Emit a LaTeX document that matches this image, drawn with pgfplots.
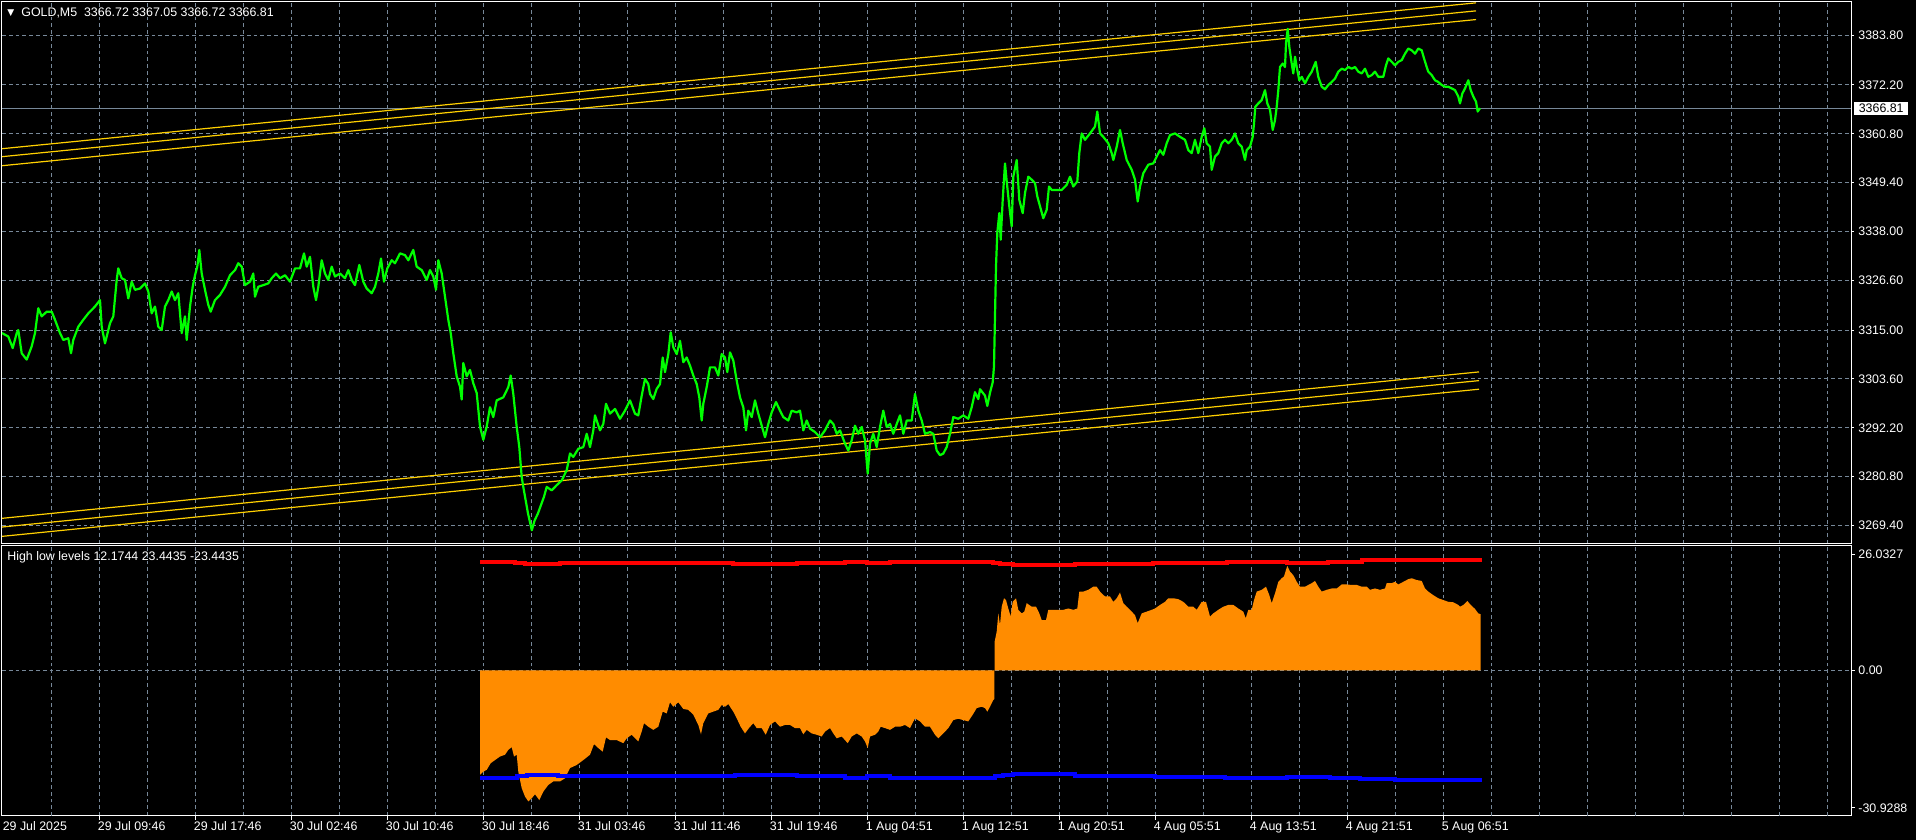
\documentclass[border=0pt]{standalone}
\usepackage{fontspec}
\setmainfont{Liberation Sans}
\newfontfamily\dejavu{DejaVu Sans}
\usepackage{pgfplots}
\pgfplotsset{compat=1.18}

\definecolor{mtgrid}{HTML}{778899}
\definecolor{mtgreen}{HTML}{00FF00}
\definecolor{mtgold}{HTML}{FFD000}
\definecolor{mtorange}{HTML}{FF8C00}
\newcommand\mtfont{\fontsize{6.2}{7}\selectfont}

% one pixel of the screenshot = 0.5pt, x data = pixel column
\pgfplotsset{
  mtpanel/.style={
    scale only axis, width=924.5pt, xmin=2, xmax=1851,
    axis line style={white, line width=0.5pt},
    grid style={mtgrid, line width=0.5pt, dash pattern=on 1.9pt off 1.5pt},
    minor grid style={mtgrid, line width=0.5pt, dash pattern=on 1.9pt off 1.5pt},
    tick style={white, line width=0.5pt},
    tick align=outside, minor tick length=0pt,
    ytick pos=right, yticklabel pos=right, xtick pos=bottom,
    ticklabel style={font=\mtfont, text=white, inner sep=0pt},
    clip mode=individual,
  },
}

\begin{document}
\begin{tikzpicture}
\path[use as bounding box, fill=black] (0,0) rectangle (958pt,420pt);

% ---------------- price panel ----------------
\begin{axis}[mtpanel, at={(1pt,148pt)}, anchor=south west, height=271pt,
  ymin=3265.08, ymax=3391.57,
  major tick length=1.5pt,
  yticklabel style={anchor=west, xshift=2pt},
  xtick={51.5,99.5,...,1827.5}, xticklabel=\empty, major x tick style=transparent,
  ytick={3269.4,3280.8,3292.2,3303.6,3315.0,3326.6,3338.0,3349.4,3360.8,3372.2,3383.8},
  yticklabels={3269.40,3280.80,3292.20,3303.60,3315.00,3326.60,3338.00,3349.40,3360.80,3372.20,3383.80},
  xmajorgrids, ymajorgrids,
]
% current price line
\addplot[mtgrid, line width=0.5pt] coordinates {(2,3366.81) (1851,3366.81)};

% channel lines
\addplot[mtgold, line width=0.6pt] coordinates {(2,3357.33) (1476,3391.37)};
\addplot[mtgold, line width=0.6pt] coordinates {(2,3355.47) (1476,3389.50)};
\addplot[mtgold, line width=0.6pt] coordinates {(2,3353.36) (1476,3387.47)};
\addplot[mtgold, line width=0.6pt] coordinates {(2,3271.07) (1479,3305.24)};
\addplot[mtgold, line width=0.6pt] coordinates {(2,3269.04) (1479,3303.21)};
\addplot[mtgold, line width=0.6pt] coordinates {(2,3266.86) (1479,3301.20)};

% GOLD M5 close
\addplot[mtgreen, line width=1.1pt, line join=round] coordinates {
(2,3314.3)(8.3,3313.5)(12.7,3310.8)(16.7,3314.3)(18.3,3315.0)(21.7,3309.6)(26.7,3308.1)(31.7,3311.2)(35,3314.3)(38.3,3320.1)
(41.7,3318.2)(46.7,3319.3)(51.7,3319.3)(55,3317.4)(60,3314.3)(63.3,3312.7)(68.3,3313.1)(71,3309.6)(73.3,3312.7)(78.3,3315.8)
(83.3,3317.4)(88.3,3318.9)(95,3320.5)(100,3322.0)(101.7,3315.8)(105,3311.9)(110,3316.6)(113.3,3318.2)(116.7,3326.7)(118.3,3329.4)
(121.7,3327.1)(125,3326.7)(128.3,3322.4)(131.7,3326.3)(135,3324.4)(140,3324.7)(145,3325.9)(148.3,3324.0)(151.7,3318.9)(155,3320.5)
(158.3,3315.8)(161.7,3315.0)(165,3320.5)(168.3,3322.0)(171.7,3324.0)(175,3322.0)(178.3,3323.6)(181.7,3314.3)(185,3318.2)(186.7,3312.7)
(190,3320.5)(192.7,3325.1)(195,3327.8)(197.3,3329.8)(199.3,3333.7)(201.7,3328.2)(205,3324.4)(208.3,3320.9)(210.7,3319.3)(215,3322.0)
(220,3323.2)(225,3325.1)(230,3327.8)(235,3329.0)(238.3,3330.6)(241.7,3329.8)(245,3325.5)(250,3326.3)(253.3,3328.2)(255,3322.8)
(258.3,3325.1)(263.3,3325.5)(268.3,3325.9)(271.7,3327.1)(276,3328.2)(280,3327.1)(285,3327.8)(290,3326.3)(295,3329.4)(300,3329.4)
(304,3332.9)(306.7,3329.8)(310,3332.1)(313.3,3325.1)(316,3322.0)(318.3,3325.1)(321.7,3331.3)(325,3328.2)(328.3,3326.7)(331.7,3329.8)
(335,3327.5)(340,3328.2)(345,3327.1)(348.3,3329.0)(351.7,3326.7)(355,3325.5)(359.3,3330.2)(363.3,3326.3)(366.7,3324.7)(371.7,3323.6)
(375,3325.1)(378.3,3328.2)(381,3331.7)(384,3326.3)(387.3,3329.4)(391.7,3331.3)(395,3330.6)(400,3332.9)(405,3332.5)(408.3,3331.3)
(413.3,3333.7)(416.7,3329.8)(421.7,3329.0)(426.7,3326.7)(430,3329.0)(433.3,3327.5)(436,3324.4)(438.3,3331.3)(441.7,3328.2)(445,3322.8)
(448.3,3317.4)(450.7,3314.3)(453.3,3309.6)(456.7,3304.2)(460,3301.8)(461.7,3298.8)(463.3,3307.3)(466.7,3304.2)(470,3305.7)(473.3,3302.6)
(476.7,3300.3)(480,3292.5)(483.3,3289.4)(486.7,3292.5)(490,3297.0)(493.3,3294.7)(496.7,3298.6)(503.3,3299.3)(508.3,3301.7)(510.7,3304.4)
(513.3,3300.1)(516.7,3292.4)(519.3,3287.7)(521.7,3280.7)(523.3,3278.4)(528,3272.2)(531.8,3268.3)(534.5,3270.5)(537.9,3272.2)(544,3276.1)
(546.7,3278.4)(551.7,3277.6)(556.7,3278.8)(561.7,3279.9)(566.7,3282.3)(570,3286.2)(573.3,3285.4)(578.3,3287.3)(583.3,3287.7)(586.7,3290.8)
(590,3287.7)(593.3,3291.6)(595,3295.1)(600,3291.6)(603.3,3293.1)(606,3297.8)(610,3295.5)(615,3296.6)(620,3294.3)(625,3296.2)
(630,3298.6)(635,3295.5)(638.3,3295.1)(641.7,3299.7)(645,3303.6)(648.3,3302.4)(650,3300.1)(653.3,3298.9)(656.7,3301.3)(660,3302.4)
(662.7,3308.6)(665,3305.2)(668.3,3309.4)(670.7,3314.5)(673.3,3311.0)(676.7,3309.4)(680,3312.5)(683.3,3307.5)(686.7,3308.6)(690,3306.7)
(693.3,3304.4)(696.7,3302.4)(699.3,3299.3)(701.7,3293.9)(703.3,3297.8)(706.7,3301.7)(710,3306.3)(715,3306.3)(718.3,3304.4)(721.7,3309.4)
(725,3308.6)(727.3,3305.2)(730,3309.8)(733.3,3307.9)(736.7,3303.2)(740,3299.3)(743.3,3297.0)(746,3291.6)(748.3,3296.2)(751.7,3294.7)
(755,3298.6)(758.3,3295.5)(761.7,3292.7)(765,3290.0)(768.3,3293.1)(771.7,3295.8)(776,3298.2)(780,3296.2)(783.3,3294.7)(788.3,3293.9)
(791.7,3296.2)(796.7,3295.8)(800,3296.2)(803.3,3291.6)(806.7,3293.9)(810,3292.0)(815,3291.2)(820,3290.0)(825,3291.6)(830,3293.9)
(833.3,3293.1)(836.7,3290.8)(840,3291.6)(845,3288.5)(848.3,3286.9)(851.7,3289.3)(855,3292.7)(858.3,3290.8)(861.7,3292.4)(865,3289.3)
(867.7,3281.5)(870,3288.5)(873.3,3290.8)(876.7,3287.7)(880,3292.4)(883.3,3296.2)(886.7,3292.4)(890,3293.1)(893.3,3290.8)(896.7,3293.1)
(900,3295.1)(903.3,3290.8)(906.7,3293.9)(911.7,3293.9)(915,3300.1)(918.3,3296.2)(921.7,3293.9)(925,3290.8)(930,3291.2)(933.3,3290.8)
(936.7,3286.9)(940,3285.8)(943.3,3286.2)(946.7,3287.7)(950,3290.8)(953.3,3294.7)(958.3,3294.3)(963.3,3295.1)(968.3,3294.3)(971.7,3297.0)
(975,3300.5)(978.3,3298.9)(980,3301.2)(985,3299.7)(987.3,3297.3)(990,3300.4)(992.7,3302.8)(994,3306.6)(995,3318.3)(996,3329.9)
(997.3,3337.7)(999.3,3342.3)(1000.7,3336.1)(1002.7,3345.4)(1005,3353.9)(1006.7,3349.7)(1009.3,3343.9)(1011.7,3339.2)(1013.3,3350.8)(1016.7,3354.7)
(1019.3,3345.4)(1022.7,3342.3)(1025,3347.0)(1028.3,3350.8)(1031.7,3350.1)(1035,3349.3)(1037.3,3346.2)(1040,3343.9)(1043.3,3341.1)(1046.7,3343.1)
(1049,3348.5)(1051.7,3347.7)(1056.7,3347.7)(1061.7,3347.7)(1066.7,3348.9)(1070,3350.8)(1073.3,3348.5)(1077.3,3349.7)(1079.3,3356.3)(1081.7,3360.9)
(1085,3359.4)(1090,3360.9)(1095,3362.5)(1097.3,3366.0)(1100,3360.9)(1103.3,3360.1)(1108.3,3358.6)(1111.7,3356.3)(1113.3,3354.7)(1116.7,3357.8)
(1120,3361.7)(1122.7,3358.6)(1126.7,3354.7)(1131.7,3352.4)(1135,3350.1)(1137.7,3345.0)(1140,3348.5)(1143.3,3351.6)(1148.3,3353.6)(1153.3,3353.9)
(1156.7,3355.5)(1160,3357.0)(1163.3,3355.9)(1166.7,3358.6)(1170,3360.5)(1175,3360.9)(1180,3360.1)(1185,3359.4)(1188.3,3357.0)(1191.7,3356.3)
(1195,3359.4)(1198.3,3356.3)(1201.7,3360.1)(1204.3,3362.1)(1206.7,3358.6)(1210,3357.8)(1211.7,3352.4)(1215,3355.5)(1218.3,3356.3)(1221.7,3358.6)
(1225,3359.4)(1228.3,3358.6)(1231.7,3359.4)(1235,3360.9)(1238.3,3358.6)(1241.7,3357.8)(1245,3354.7)(1246.7,3357.0)(1250,3357.8)(1252.7,3360.1)
(1254,3363.2)(1255.3,3367.1)(1258.3,3367.9)(1261.7,3368.7)(1265,3371.0)(1267.3,3367.9)(1270,3366.4)(1272.7,3361.7)(1275,3364.0)(1276.7,3367.1)
(1278.3,3371.0)(1280,3376.4)(1282.7,3377.2)(1285,3376.4)(1286,3381.9)(1287.7,3385.3)(1289.3,3381.1)(1291.7,3377.2)(1293.3,3374.9)(1295,3378.8)
(1296.7,3376.4)(1299.3,3373.3)(1301.7,3374.1)(1305,3372.6)(1308.3,3374.1)(1311.7,3375.3)(1315.7,3377.6)(1318.3,3374.1)(1321.7,3371.8)(1325,3371.2)
(1328.3,3372.2)(1331.7,3372.9)(1335,3373.7)(1338.3,3375.3)(1341.7,3376.0)(1345,3375.7)(1348.3,3376.4)(1351.7,3376.0)(1355,3376.4)(1358.3,3375.3)
(1361.7,3374.9)(1365,3376.0)(1368.3,3374.1)(1371.7,3374.5)(1375,3375.3)(1378.3,3374.1)(1383.3,3374.1)(1386,3376.8)(1388.3,3378.4)(1391.7,3377.6)
(1395,3376.8)(1398.3,3377.6)(1401.7,3378.0)(1405,3379.5)(1408.3,3380.7)(1411.7,3380.3)(1415,3379.5)(1418.3,3380.7)(1421.7,3380.3)(1424,3378.4)
(1426.7,3376.4)(1428.3,3375.3)(1431.7,3374.5)(1435,3373.3)(1438.3,3372.9)(1441.7,3372.2)(1445,3371.8)(1448.3,3371.8)(1451.7,3371.4)(1455,3371.0)
(1458.3,3369.5)(1460,3367.9)(1462.3,3370.2)(1465,3371.4)(1468.3,3373.3)(1470.7,3371.0)(1473.3,3369.5)(1476,3368.3)(1477.7,3366.0)(1480,3366.8)
};

\node[anchor=center, text=white, font=\dejavu\fontsize{4.5}{5}\selectfont, inner sep=0pt,
      xshift=4.4pt, yshift=-5.4pt] at (rel axis cs:0,1) {▼};
\node[anchor=west, text=white, font=\mtfont, inner sep=0pt, xshift=9.5pt, yshift=-5.25pt]
      at (rel axis cs:0,1) {GOLD,M5\ \ 3366.72 3367.05 3366.72 3366.81};
\node[anchor=west, fill=white, text=black, font=\mtfont, inner xsep=2.2pt, inner ysep=1pt,
      minimum height=6.5pt, xshift=1.5pt] at (axis cs:1851,3366.81) {3366.81};
\end{axis}

% ---------------- indicator panel ----------------
\begin{axis}[mtpanel, at={(1pt,12pt)}, anchor=south west, height=135pt,
  ymin=-32.78, ymax=27.96,
  major tick length=2pt,
  yticklabel style={anchor=west, xshift=1.5pt},
  xtick={99.5,195.5,...,1443.5},
  xticklabels={29 Jul 09:46,29 Jul 17:46,30 Jul 02:46,30 Jul 10:46,30 Jul 18:46,31 Jul 03:46,31 Jul 11:46,31 Jul 19:46,1 Aug 04:51,1 Aug 12:51,1 Aug 20:51,4 Aug 05:51,4 Aug 13:51,4 Aug 21:51,5 Aug 06:51},
  xticklabel style={anchor=north west, xshift=-1pt, yshift=-0.8pt},
  minor x tick num=1,
  extra x ticks={51.5,1491.5,1539.5,1587.5,1635.5,1683.5,1731.5,1779.5,1827.5},
  extra x tick labels={},
  extra x tick style={grid=major, major tick length=0pt},
  ytick={0}, yticklabels={0.00},
  extra y ticks={-30.9288,26.0327}, extra y tick labels={-30.9288,26.0327},
  extra y tick style={grid=none},
  xmajorgrids, xminorgrids, ymajorgrids,
]
\addplot[draw=none, fill=mtorange] coordinates {
(480,0)(480,-23.5)(483.3,-22.8)(486.7,-22.4)(490.7,-20.9)(495,-20.2)(500,-19.4)(505,-19.0)(508.3,-17.9)(511.7,-17.3)
(514,-19.4)(516.7,-19.0)(518.3,-22.8)(521.7,-26.5)(525,-28.4)(528.3,-29.5)(531.7,-28.8)(535,-27.9)(539.3,-29.2)(543.3,-27.3)
(548.3,-25.8)(553.3,-25.0)(560,-25.0)(565,-24.3)(570,-22.0)(576.7,-21.3)(583.3,-20.2)(590,-19.0)(594,-16.6)(598.3,-17.5)
(602.7,-18.3)(606,-15.1)(610,-15.7)(616.7,-15.7)(623.3,-16.4)(626.7,-15.3)(631.7,-14.5)(638.3,-16.0)(641.7,-13.8)(644,-11.9)
(648.3,-12.7)(653.3,-13.4)(658.3,-12.7)(662.7,-9.3)(666.7,-9.7)(670,-7.2)(673.3,-8.2)(678.3,-7.2)(683.3,-8.7)(688.3,-8.9)
(693.3,-10.0)(698.3,-12.3)(701,-14.4)(703.3,-11.9)(708.3,-9.7)(713.3,-9.3)(718.3,-8.9)(721.7,-7.8)(725,-8.2)(728.3,-7.6)
(733.3,-9.3)(736.7,-10.8)(740.7,-12.7)(745,-14.2)(749.3,-12.9)(753.3,-11.9)(756.7,-13.0)(761.7,-13.0)(765.7,-14.5)(770,-12.3)
(775,-11.5)(780,-12.7)(785,-12.3)(790,-12.3)(795,-13.0)(800,-13.0)(803.3,-14.4)(806.7,-13.4)(811.7,-14.2)(816.7,-14.5)
(821.7,-14.9)(825,-13.8)(830,-13.0)(833.3,-14.2)(836.7,-15.3)(841.7,-14.9)(845,-15.7)(847.7,-16.4)(851.7,-14.9)(856.7,-14.2)
(861.7,-14.9)(865,-16.0)(867.7,-17.5)(870,-14.9)(875,-14.5)(878.3,-13.8)(880.7,-12.7)(885,-13.0)(890,-13.4)(895,-12.7)
(900,-12.7)(905,-12.3)(910,-13.0)(915,-10.8)(920,-11.5)(925,-12.7)(930,-12.7)(935,-14.5)(938.3,-15.3)(943.3,-14.2)
(948.3,-13.0)(953.3,-11.2)(958.3,-10.9)(963.3,-11.2)(968.3,-11.5)(972.7,-10.0)(976.7,-8.5)(981.7,-8.2)(985,-8.5)(987.3,-9.3)
(990,-8.2)(993.3,-6.7)(994.3,-6.5)(994.3,0)(994.6,0)(994.6,6.4)(996.7,8.7)(998.3,12.8)(1000,10.2)(1001.7,14.3)
(1004,16.2)(1006,15.8)(1008.3,13.9)(1010.7,12.1)(1012.7,15.4)(1016,16.2)(1018.3,13.6)(1021.7,12.8)(1024.3,13.2)(1026.7,15.1)
(1031.7,14.3)(1036,14.3)(1039.3,12.8)(1041.7,11.3)(1046,11.3)(1048.3,13.6)(1053.3,13.6)(1058.3,13.6)(1063.3,13.6)(1068.3,13.9)
(1073.3,13.6)(1077.3,13.9)(1079.3,17.7)(1083.3,17.7)(1088.3,18.1)(1093.3,18.8)(1096.7,18.8)(1100,17.7)(1105,16.6)(1110,16.6)
(1113.3,15.4)(1116.7,16.2)(1120,17.5)(1123.3,15.1)(1126.7,14.3)(1131.7,13.2)(1135,12.4)(1137.7,10.6)(1141.7,12.8)(1146.7,13.2)
(1151.7,13.6)(1155,13.9)(1160,14.7)(1165,15.4)(1168.3,16.2)(1173.3,16.2)(1178.3,16.0)(1183.3,15.4)(1188.3,14.3)(1193.3,14.3)
(1196.7,13.6)(1201.7,15.4)(1206,15.4)(1210,12.1)(1213.3,12.8)(1218.3,13.6)(1223.3,14.3)(1228.3,14.7)(1233.3,14.7)(1238.3,13.9)
(1243.3,13.2)(1245.7,11.7)(1248.3,13.6)(1251.7,13.6)(1254,15.8)(1256.7,17.7)(1261.7,18.1)(1266,18.8)(1269.3,16.9)(1271.7,15.1)
(1275,17.3)(1278.3,19.9)(1281.7,20.7)(1284,21.1)(1286,22.6)(1287.3,23.5)(1290,22.2)(1293.3,21.4)(1296.7,19.9)(1300,18.8)
(1305,18.8)(1308.3,19.2)(1311.7,19.6)(1315,20.1)(1318.3,18.8)(1321.7,17.7)(1326.7,18.1)(1331.7,18.4)(1336.7,18.4)(1341.7,19.3)
(1346.7,19.3)(1351.7,19.2)(1356.7,19.2)(1361.7,18.8)(1366.7,18.8)(1370,18.1)(1375,18.4)(1380,18.1)(1385,18.4)(1386.7,19.6)
(1391.7,19.6)(1395,19.9)(1398.3,19.3)(1403.3,19.9)(1408.3,20.5)(1411.7,20.7)(1416.7,20.3)(1421.7,20.1)(1425,18.4)(1428.3,17.7)
(1433.3,16.9)(1438.3,16.2)(1443.3,15.8)(1448.3,15.4)(1453.3,15.3)(1458.3,14.7)(1460,14.3)(1463.3,14.7)(1467.3,15.6)(1470.7,14.7)
(1475,13.8)(1478.3,12.8)(1480.7,12.6)(1480.7,0)
};
\addplot[red, line width=2pt, const plot] coordinates {
(480,24.45)(515,24.2)(525,24.0)(560,24.2)(733,24.0)(797,24.2)(845,24.45)(867,24.2)(890,24.45)(993,24.2)
(1000,23.9)(1013,23.7)(1075,23.9)(1153,24.2)(1227,24.45)(1287,24.2)(1328,24.45)(1362,24.7)(1395,24.8)(1482,24.8)
};
\addplot[blue, line width=2pt, const plot] coordinates {
(480,-24.15)(517,-23.85)(527,-23.6)(558,-23.85)(735,-23.6)(797,-23.85)(845,-24.15)(867,-23.85)(890,-24.15)(995,-23.85)
(1003,-23.6)(1013,-23.4)(1075,-23.7)(1155,-23.9)(1225,-24.2)(1287,-23.9)(1330,-24.2)(1360,-24.45)(1395,-24.7)(1482,-24.7)
};

\node[anchor=west, text=white, font=\mtfont, inner sep=0pt, xshift=2.5pt, yshift=-5.75pt]
      at (rel axis cs:0,1) {High low levels 12.1744 23.4435 -23.4435};
\node[anchor=north west, text=white, font=\mtfont, inner sep=0pt, xshift=0.2pt, yshift=-2.8pt]
      at (rel axis cs:0,0) {29 Jul 2025};
\end{axis}
\end{tikzpicture}
\end{document}
